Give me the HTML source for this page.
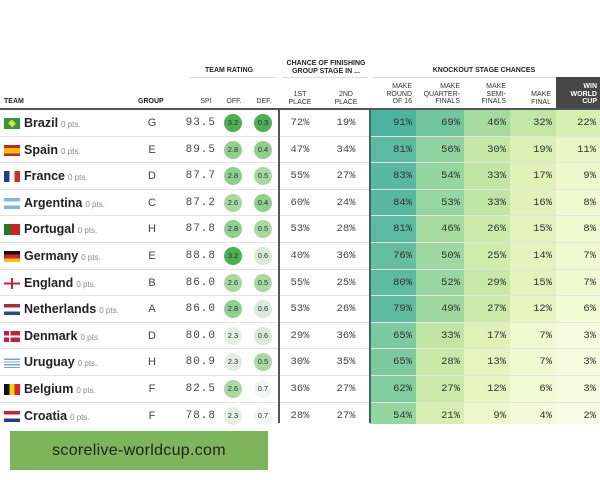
<!DOCTYPE html>
<html><head><meta charset="utf-8"><style>
*{margin:0;padding:0;box-sizing:border-box}
body{width:600px;height:480px;background:#fff;position:relative;overflow:hidden;font-family:"Liberation Sans",sans-serif;color:#222}
.a{position:absolute}
.h{position:absolute;font-size:7px;font-weight:bold;text-transform:uppercase;line-height:8px;color:#222}
.sh{position:absolute;font-size:7px;color:#333;line-height:7.5px;text-align:center;text-transform:uppercase}
.row{position:absolute;left:0;width:600px;height:26.6px;border-bottom:1px solid #e3e3e3}
.row>*{position:absolute}
.fl{left:4px;top:8px;width:16px;height:11px}
.nm{left:24px;top:6px;font-size:12.5px;font-weight:bold;white-space:nowrap}
.nm small{font-size:8px;font-weight:normal;color:#888;margin-left:3px}
.gp{left:140px;width:24px;top:7px;text-align:center;font-size:11px;color:#444}
.spi{left:180px;width:36px;top:7px;text-align:right;font-family:"Liberation Mono",monospace;font-size:11px;letter-spacing:1px;color:#444}
.c{width:18px;height:18px;border-radius:50%;top:4px;font-size:7.5px;text-align:center;line-height:18px;color:#234}
.o{left:224px}.d{left:254px}
.p{top:7px;font-family:"Liberation Mono",monospace;font-size:10.5px;color:#444;text-align:center;width:40px}
.p1{left:280px}.p2{left:326px}
.k{top:0;height:100%;font-family:"Liberation Mono",monospace;font-size:10.5px;color:#333;text-align:right;padding-right:4px;line-height:26px}
.k1{left:370px;width:46px}.k2{left:416px;width:48px}.k3{left:464px;width:46px}.k4{left:510px;width:46px}.k5{left:556px;width:44px}
</style></head><body>
<div class="h" style="left:205px;top:67px">Team Rating</div>
<div class="a" style="left:190px;top:77px;width:86px;height:1px;background:#ddd"></div>
<div class="h" style="left:283px;top:60px;text-align:center;width:86px">Chance of finishing<br>group stage in ...</div>
<div class="a" style="left:282px;top:77px;width:86px;height:1px;background:#ddd"></div>
<div class="h" style="left:373px;top:67px;width:222px;text-align:center">Knockout stage chances</div>
<div class="a" style="left:373px;top:77px;width:183px;height:1px;background:#ddd"></div>
<div class="a" style="left:556px;top:77px;width:44px;height:32px;background:#474747"></div>
<div class="h" style="left:4px;top:98px">Team</div>
<div class="h" style="left:138px;top:98px">Group</div>
<div class="sh" style="left:196px;top:98px;width:20px">SPI</div>
<div class="sh" style="left:224px;top:98px;width:20px">Off.</div>
<div class="sh" style="left:254px;top:98px;width:20px">Def.</div>
<div class="sh" style="left:280px;top:91px;width:40px">1st<br>place</div>
<div class="sh" style="left:326px;top:91px;width:40px">2nd<br>place</div>
<div class="sh" style="left:372px;top:83px;width:40px;text-align:right">Make<br>round<br>of 16</div>
<div class="sh" style="left:416px;top:83px;width:44px;text-align:right">Make<br>quarter-<br>finals</div>
<div class="sh" style="left:464px;top:83px;width:42px;text-align:right">Make<br>semi-<br>finals</div>
<div class="sh" style="left:510px;top:91px;width:41px;text-align:right">Make<br>final</div>
<div class="sh" style="left:556px;top:83px;width:41px;text-align:right;color:#fff;font-weight:bold">Win<br>world<br>cup</div>
<div class="a" style="left:0;top:108px;width:600px;height:2px;background:#555"></div>

<div class="row" style="top:110px"><div class="fl" style="background:#2e9a3e"><div style="margin:2px 4px;width:8px;height:7px;background:#f5d33a;transform:rotate(45deg) scale(.75)"></div></div><div class="nm">Brazil<small>0 pts.</small></div><div class="gp">G</div><div class="spi">93.5</div><div class="c o" style="background:#4caf50">3.2</div><div class="c d" style="background:#4caf50">0.3</div><div class="p p1">72%</div><div class="p p2">19%</div><div class="k k1" style="background:#4bb39e">91%</div><div class="k k2" style="background:#72c6a0">69%</div><div class="k k3" style="background:#a6dba0">46%</div><div class="k k4" style="background:#c2e6a5">32%</div><div class="k k5" style="background:#d8efb2">22%</div></div>
<div class="row" style="top:136.6px"><div class="fl" style="background:linear-gradient(#c8262c 0 25%,#f1bf00 25% 75%,#c8262c 75%)"></div><div class="nm">Spain<small>0 pts.</small></div><div class="gp">E</div><div class="spi">89.5</div><div class="c o" style="background:#8fcf8c">2.8</div><div class="c d" style="background:#8fcf8c">0.4</div><div class="p p1">47%</div><div class="p p2">34%</div><div class="k k1" style="background:#5cbaa0">81%</div><div class="k k2" style="background:#90d3a0">56%</div><div class="k k3" style="background:#c6e8a6">30%</div><div class="k k4" style="background:#dbf0b5">19%</div><div class="k k5" style="background:#eaf6c4">11%</div></div>
<div class="row" style="top:163.2px"><div class="fl" style="background:linear-gradient(90deg,#1f3f92 0 33%,#fff 33% 66%,#d8283a 66%)"></div><div class="nm">France<small>0 pts.</small></div><div class="gp">D</div><div class="spi">87.7</div><div class="c o" style="background:#8fcf8c">2.8</div><div class="c d" style="background:#a8d8a2">0.5</div><div class="p p1">55%</div><div class="p p2">27%</div><div class="k k1" style="background:#59b99f">83%</div><div class="k k2" style="background:#94d5a0">54%</div><div class="k k3" style="background:#c0e5a5">33%</div><div class="k k4" style="background:#dff2b8">17%</div><div class="k k5" style="background:#eff8cc">9%</div></div>
<div class="row" style="top:189.8px"><div class="fl" style="background:linear-gradient(#7fb6e2 0 33%,#fff 33% 66%,#7fb6e2 66%)"></div><div class="nm">Argentina<small>0 pts.</small></div><div class="gp">C</div><div class="spi">87.2</div><div class="c o" style="background:#a8d8a2">2.6</div><div class="c d" style="background:#8fcf8c">0.4</div><div class="p p1">60%</div><div class="p p2">24%</div><div class="k k1" style="background:#57b89f">84%</div><div class="k k2" style="background:#96d6a0">53%</div><div class="k k3" style="background:#c0e5a5">33%</div><div class="k k4" style="background:#e1f2ba">16%</div><div class="k k5" style="background:#f0f9cf">8%</div></div>
<div class="row" style="top:216.4px"><div class="fl" style="background:linear-gradient(90deg,#1f7a2c 0 40%,#d0202c 40%)"></div><div class="nm">Portugal<small>0 pts.</small></div><div class="gp">H</div><div class="spi">87.8</div><div class="c o" style="background:#8fcf8c">2.8</div><div class="c d" style="background:#a8d8a2">0.5</div><div class="p p1">53%</div><div class="p p2">28%</div><div class="k k1" style="background:#5cbaa0">81%</div><div class="k k2" style="background:#a6dba0">46%</div><div class="k k3" style="background:#cdebaa">26%</div><div class="k k4" style="background:#e2f3bb">15%</div><div class="k k5" style="background:#f0f9cf">8%</div></div>
<div class="row" style="top:243px"><div class="fl" style="background:linear-gradient(#111 0 33%,#d8202a 33% 66%,#f3c500 66%)"></div><div class="nm">Germany<small>0 pts.</small></div><div class="gp">E</div><div class="spi">88.8</div><div class="c o" style="background:#4caf50">3.2</div><div class="c d" style="background:#d9ead6">0.6</div><div class="p p1">40%</div><div class="p p2">36%</div><div class="k k1" style="background:#65bea0">76%</div><div class="k k2" style="background:#9dd8a0">50%</div><div class="k k3" style="background:#cfecab">25%</div><div class="k k4" style="background:#e4f3bc">14%</div><div class="k k5" style="background:#f1f9d0">7%</div></div>
<div class="row" style="top:269.6px"><div class="fl" style="background:linear-gradient(90deg,transparent 43%,#d02030 43% 57%,transparent 57%),linear-gradient(transparent 40%,#d02030 40% 60%,transparent 60%)"></div><div class="nm">England<small>0 pts.</small></div><div class="gp">B</div><div class="spi">86.0</div><div class="c o" style="background:#a8d8a2">2.6</div><div class="c d" style="background:#a8d8a2">0.5</div><div class="p p1">55%</div><div class="p p2">25%</div><div class="k k1" style="background:#5dbba0">80%</div><div class="k k2" style="background:#98d7a0">52%</div><div class="k k3" style="background:#c8e8a7">29%</div><div class="k k4" style="background:#e2f3bb">15%</div><div class="k k5" style="background:#f1f9d0">7%</div></div>
<div class="row" style="top:296.2px"><div class="fl" style="background:linear-gradient(#ae2a3a 0 33%,#fff 33% 66%,#2a4a8e 66%)"></div><div class="nm">Netherlands<small>0 pts.</small></div><div class="gp">A</div><div class="spi">86.0</div><div class="c o" style="background:#8fcf8c">2.8</div><div class="c d" style="background:#d9ead6">0.6</div><div class="p p1">53%</div><div class="p p2">26%</div><div class="k k1" style="background:#5fbca0">79%</div><div class="k k2" style="background:#a0d9a0">49%</div><div class="k k3" style="background:#cbeaa9">27%</div><div class="k k4" style="background:#e7f5bf">12%</div><div class="k k5" style="background:#f2fad4">6%</div></div>
<div class="row" style="top:322.8px"><div class="fl" style="background:linear-gradient(90deg,transparent 30%,#fff 30% 42%,transparent 42%),linear-gradient(transparent 42%,#fff 42% 58%,transparent 58%),#c4203a"></div><div class="nm">Denmark<small>0 pts.</small></div><div class="gp">D</div><div class="spi">80.0</div><div class="c o" style="background:#e6eee4">2.3</div><div class="c d" style="background:#d9ead6">0.6</div><div class="p p1">29%</div><div class="p p2">36%</div><div class="k k1" style="background:#7bcaa0">65%</div><div class="k k2" style="background:#c0e5a5">33%</div><div class="k k3" style="background:#dff2b8">17%</div><div class="k k4" style="background:#f1f9d0">7%</div><div class="k k5" style="background:#f6fbe0">3%</div></div>
<div class="row" style="top:349.4px"><div class="fl" style="background:repeating-linear-gradient(#fff 0 1.5px,#7c9fd2 1.5px 2.8px)"></div><div class="nm">Uruguay<small>0 pts.</small></div><div class="gp">H</div><div class="spi">80.9</div><div class="c o" style="background:#e6eee4">2.3</div><div class="c d" style="background:#a8d8a2">0.5</div><div class="p p1">30%</div><div class="p p2">35%</div><div class="k k1" style="background:#7bcaa0">65%</div><div class="k k2" style="background:#c9e9a8">28%</div><div class="k k3" style="background:#e5f4bd">13%</div><div class="k k4" style="background:#f1f9d0">7%</div><div class="k k5" style="background:#f6fbe0">3%</div></div>
<div class="row" style="top:376px"><div class="fl" style="background:linear-gradient(90deg,#111 0 33%,#f6d300 33% 66%,#e0202c 66%)"></div><div class="nm">Belgium<small>0 pts.</small></div><div class="gp">F</div><div class="spi">82.5</div><div class="c o" style="background:#a8d8a2">2.6</div><div class="c d" style="background:#f3f5f2">0.7</div><div class="p p1">36%</div><div class="p p2">27%</div><div class="k k1" style="background:#81cda0">62%</div><div class="k k2" style="background:#cbeaa9">27%</div><div class="k k3" style="background:#e7f5bf">12%</div><div class="k k4" style="background:#f2fad4">6%</div><div class="k k5" style="background:#f6fbe0">3%</div></div>
<div class="row" style="top:402.6px;border-bottom:none;height:21px"><div class="fl" style="background:linear-gradient(#d0202c 0 33%,#fff 33% 66%,#1f3a8e 66%)"></div><div class="nm">Croatia<small>0 pts.</small></div><div class="gp">F</div><div class="spi">78.8</div><div class="c o" style="background:#e6eee4">2.3</div><div class="c d" style="background:#f3f5f2">0.7</div><div class="p p1">28%</div><div class="p p2">27%</div><div class="k k1" style="background:#94d5a0">54%</div><div class="k k2" style="background:#d6eeb0">21%</div><div class="k k3" style="background:#eff8cc">9%</div><div class="k k4" style="background:#f4fad9">4%</div><div class="k k5" style="background:#f8fce4">2%</div></div>

<div class="a" style="left:278px;top:110px;width:2px;height:313px;background:#555"></div>
<div class="a" style="left:369px;top:110px;width:2px;height:313px;background:#3a6a60"></div>
<div class="a" style="left:10px;top:431px;width:258px;height:39px;background:#7fb55a;color:#222;font-size:16px;text-align:center;line-height:39px;letter-spacing:0.3px">scorelive-worldcup.com</div>
</body></html>
